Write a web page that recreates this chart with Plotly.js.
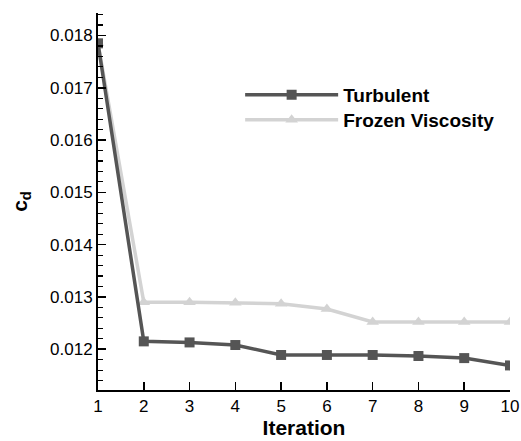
<!DOCTYPE html>
<html><head><meta charset="utf-8">
<script src="https://cdn.plot.ly/plotly-3.0.1.min.js"></script>
<style>body{margin:0;background:#fff}#c{width:521px;height:441px}</style>
</head><body><div id="c"></div>
<script>
const iterations = [1,2,3,4,5,6,7,8,9,10];
const turbulent = [0.01785,0.01215,0.01213,0.01208,0.01189,0.01189,0.01189,0.01187,0.01183,0.01169];
const frozenViscosity = [0.01785,0.0129,0.0129,0.01289,0.01287,0.01277,0.01252,0.01252,0.01252,0.01252];
const seriesNames = ['Turbulent','Frozen Viscosity'];

const F = 'Liberation Sans, Arial, Helvetica, sans-serif';
const traces = [
  {x: iterations, y: frozenViscosity, name: seriesNames[1], mode:'lines+markers', legend:'legend2',
   line:{color:'#d3d3d3', width:3.5}, marker:{symbol:'triangle-up', size:11, color:'#d3d3d3'}},
  {x: iterations, y: turbulent, name: seriesNames[0], mode:'lines+markers', legend:'legend',
   line:{color:'#555555', width:3.5}, marker:{symbol:'square', size:10, color:'#555555'}}
];
const legFont = {family:F, size:19, weight:'bold', color:'#000'};
const layout = {
  width:521, height:441,
  margin:{l:98, r:11, t:13, b:51},
  paper_bgcolor:'#fff', plot_bgcolor:'#fff',
  font:{family:F, color:'#000'},
  showlegend:true,
  legend:{x:0.345, y:0.833, xanchor:'left', yanchor:'top', bgcolor:'rgba(0,0,0,0)', font:legFont, itemwidth:93},
  legend2:{x:0.345, y:0.767, xanchor:'left', yanchor:'top', bgcolor:'rgba(0,0,0,0)', font:legFont, itemwidth:93},
  xaxis:{range:[1,10], dtick:1, tick0:1, ticks:'inside', ticklen:8, tickwidth:1.5, tickcolor:'#000',
    showline:true, linecolor:'#000', linewidth:2, showgrid:false, zeroline:false, automargin:false,
    tickfont:{size:17, family:F}, title:{text:'Iteration', font:{size:21, family:F, weight:'bold'}, standoff:5}},
  yaxis:{range:[0.01122,0.01843], dtick:0.001, tick0:0.012, ticks:'inside', ticklen:8, tickwidth:1.5, tickcolor:'#000',
    tickformat:'.3f', automargin:false,
    minor:{dtick:0.0002, tick0:0.012, ticks:'inside', ticklen:5, tickwidth:1.2, tickcolor:'#000', showgrid:false},
    showline:true, linecolor:'#000', linewidth:2, showgrid:false, zeroline:false,
    tickfont:{size:17, family:F}, title:{text:'c<sub>d</sub>', font:{size:21, family:F, weight:'bold'}, standoff:17}}
};
Plotly.newPlot('c', traces, layout, {displayModeBar:false, staticPlot:true});
</script></body></html>
